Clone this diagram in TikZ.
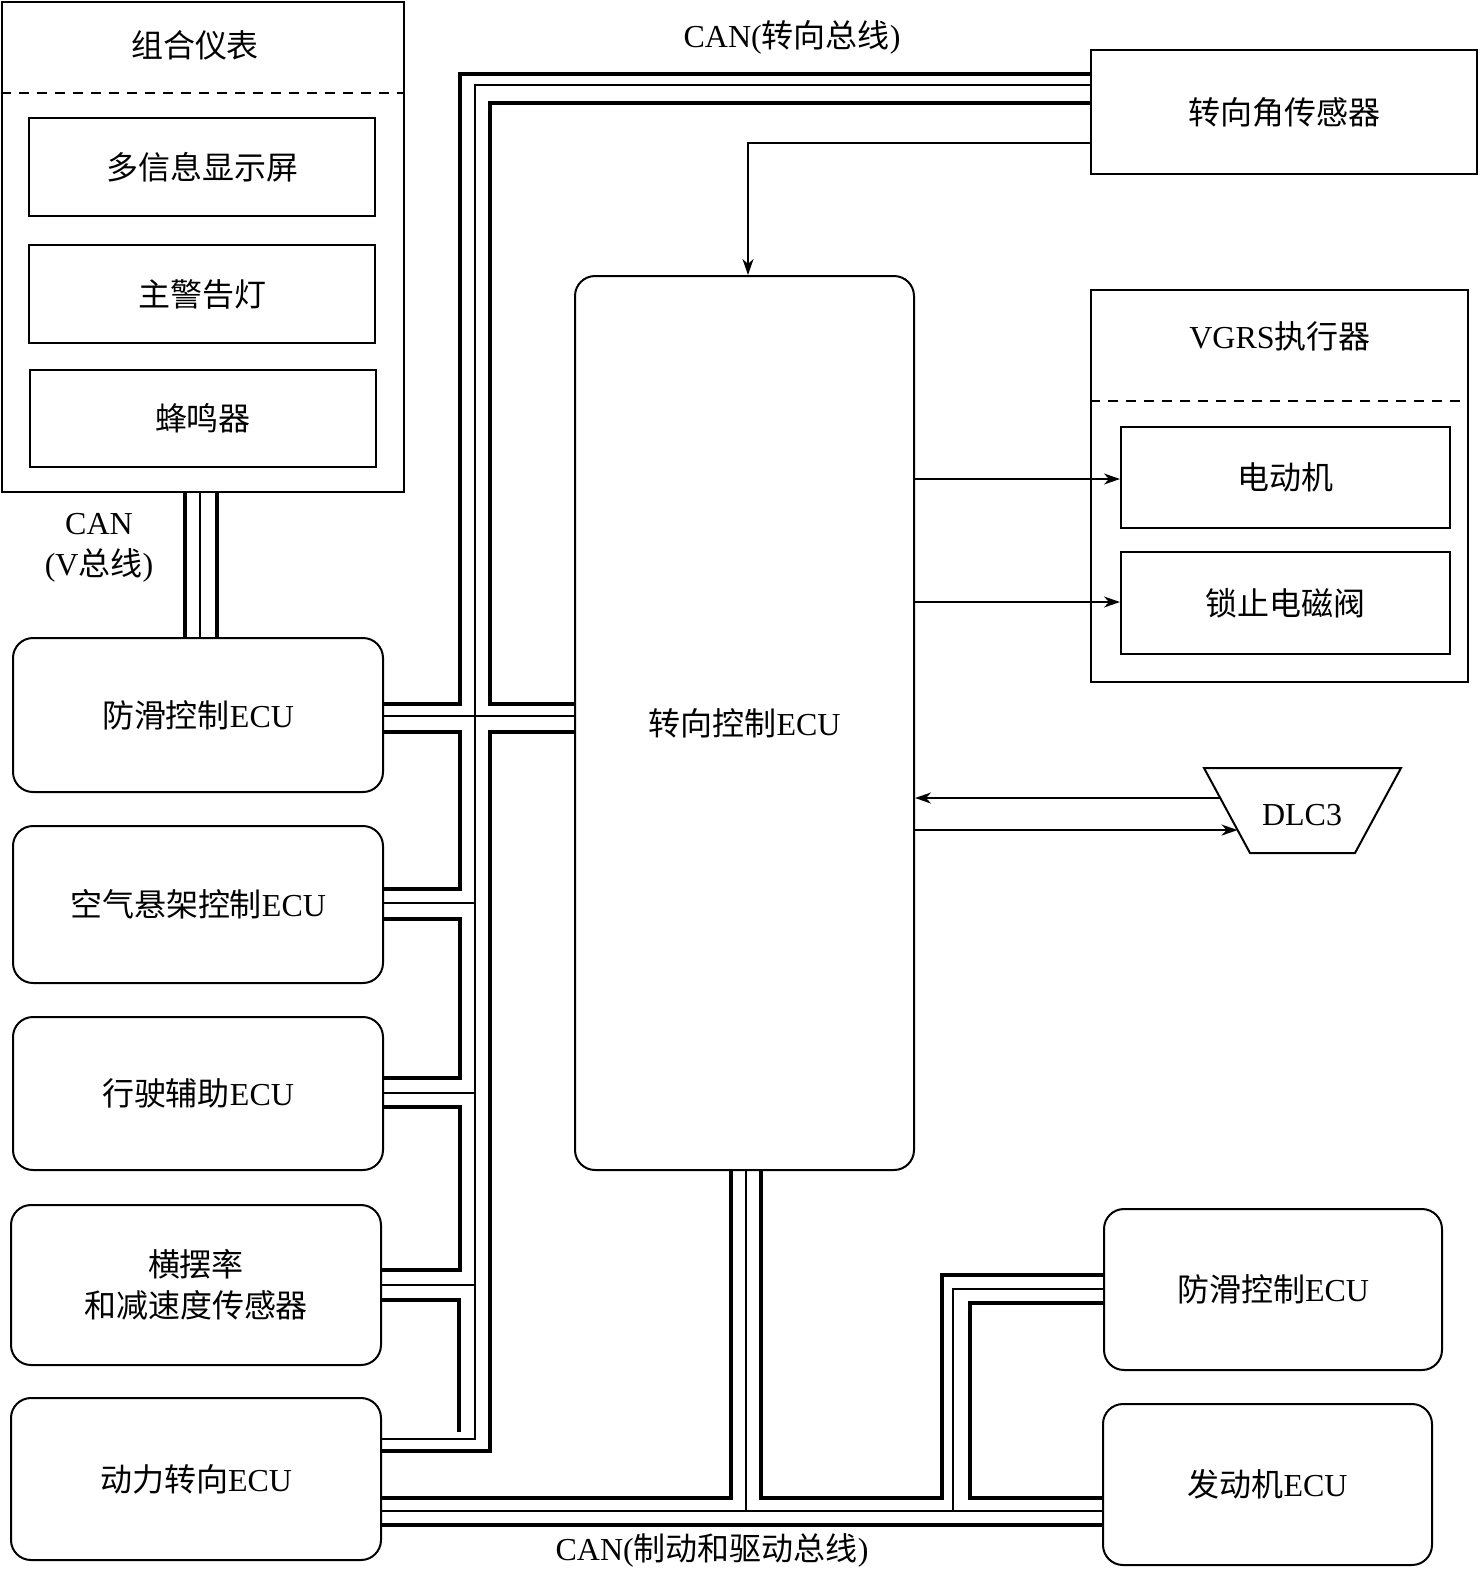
\documentclass[tikz,border=0pt]{standalone}
\usepackage{fontspec}
\setmainfont{Liberation Serif}
\newfontfamily\cjk{Noto Sans CJK SC}
\usetikzlibrary{arrows.meta,calc}

\newcommand{\zh}[1]{{\cjk #1}}

\begin{document}
\begin{tikzpicture}[x=0.5pt, y=-0.5pt, >={Stealth[length=8pt,width=5.5pt,inset=2.5pt]},
    box/.style={draw, line width=1pt, inner sep=0pt, font=\fontsize{16}{20.5}\selectfont},
    ecu/.style={box, rounded corners=10pt},
    lbl/.style={inner sep=0pt, font=\fontsize{16}{20.5}\selectfont},
    wirea/.style={line width=1.9pt},
    wireb/.style={line width=0.9pt},
    sig/.style={->, line width=1pt},
    sep/.style={line width=0.8pt, dash pattern=on 5pt off 4pt}]
    \useasboundingbox (0,0) rectangle (1481,1571);

    % instrument cluster
    \node[box, minimum width=201pt, minimum height=245pt] (zh) at (203,247) {};
    \node[lbl] (zht) at (195,45) {\zh{组合仪表}};
    \draw[sep] (zh.west |- 0,93) -- (zh.east |- 0,93);
    \node[box, minimum width=173pt, minimum height=49pt] (d1) at (202,167) {\zh{多信息显示屏}};
    \node[box, minimum width=173pt, minimum height=49pt] (d2) at (202,294) {\zh{主警告灯}};
    \node[box, minimum width=173pt, minimum height=48.5pt] (d3) at (203,418.5) {\zh{蜂鸣器}};
    \node[lbl, align=center] (canv) at (99,548) {CAN\\(V\zh{总线})};

    % steering side
    \node[box, minimum width=193pt, minimum height=62pt] (sa) at (1284,112) {\zh{转向角传感器}};
    \node[ecu, minimum width=169.5pt, minimum height=447pt] (ecu) at (744.5,723) {\zh{转向控制}ECU};
    \node[lbl] (canst) at (792,37) {CAN(\zh{转向总线})};

    % VGRS actuator
    \node[box, minimum width=188.5pt, minimum height=196pt] (vg) at (1279.5,486) {};
    \node[lbl] (vgt) at (1280,336) {VGRS\zh{执行器}};
    \draw[sep] (vg.west |- 0,401) -- (vg.east |- 0,401);
    \node[box, minimum width=164.5pt, minimum height=50.5pt] (mo) at (1285.5,477) {\zh{电动机}};
    \node[box, minimum width=164.5pt, minimum height=51pt] (sv) at (1285.5,603) {\zh{锁止电磁阀}};

    % DLC3
    \coordinate (dtl) at (1204,768);
    \coordinate (dtr) at (1401,768);
    \coordinate (dbr) at (1355,853);
    \coordinate (dbl) at (1250,853);
    \draw[line width=1pt] (dtl) -- (dtr) -- (dbr) -- (dbl) -- cycle;
    \node[lbl] (dlc) at (1302,815) {DLC3};
    \coordinate (din) at ($(dtl)!0.353!(dbl)$);
    \coordinate (dout) at ($(dtl)!0.73!(dbl)$);

    % left ECUs
    \node[ecu, minimum width=185pt, minimum height=77pt] (l1) at (198,715) {\zh{防滑控制}ECU};
    \node[ecu, minimum width=185pt, minimum height=78.5pt] (l2) at (198,904.5) {\zh{空气悬架控制}ECU};
    \node[ecu, minimum width=185pt, minimum height=76.5pt] (l3) at (198,1093.5) {\zh{行驶辅助}ECU};
    \node[ecu, minimum width=185pt, minimum height=80pt, align=center] (l4) at (196,1285) {\zh{横摆率}\\\zh{和减速度传感器}};
    \node[ecu, minimum width=185pt, minimum height=81pt] (l5) at (196,1479) {\zh{动力转向}ECU};

    % right ECUs
    \node[ecu, minimum width=169pt, minimum height=80.5pt] (r1) at (1273,1289.5) {\zh{防滑控制}ECU};
    \node[ecu, minimum width=164.5pt, minimum height=80.5pt] (r2) at (1267.5,1484.5) {\zh{发动机}ECU};
    \node[lbl] (canbd) at (712,1550) {CAN(\zh{制动和驱动总线})};

    % V bus
    \foreach \x/\w in {185/wirea, 200/wireb, 217/wirea}
      \draw[\w] (\x,0 |- zh.south) -- (\x,0 |- l1.north);

    % steering bus, outer wire
    \draw[wirea] (sa.west |- 0,74) -| (460,704) -- (l1.east |- 0,704);
    \draw[wirea] (l1.east |- 0,732) -| (460,889) -- (l2.east |- 0,889);
    \draw[wirea] (l2.east |- 0,919) -| (460,1078) -- (l3.east |- 0,1078);
    \draw[wirea] (l3.east |- 0,1107) -| (460,1270) -- (l4.east |- 0,1270);
    \coordinate (stub) at (459,1432);
    \draw[wirea] (l4.east |- 0,1300) -| (stub);
    % middle wire
    \draw[wireb] (sa.west |- 0,85) -| (475,1439) -- (l5.east |- 0,1439);
    \draw[wireb] (l1.east |- 0,716) -- (ecu.west |- 0,716);
    \draw[wireb] (l2.east |- 0,903) -- (475,903);
    \draw[wireb] (l3.east |- 0,1093) -- (475,1093);
    \draw[wireb] (l4.east |- 0,1285) -- (475,1285);
    % inner wire
    \draw[wirea] (sa.west |- 0,103) -| (490,704) -- (ecu.west |- 0,704);
    \draw[wirea] (ecu.west |- 0,732) -| (490,1451) -- (l5.east |- 0,1451);

    % brake and drive bus
    \draw[wirea] (l5.east |- 0,1498) -| (731,0 |- ecu.south);
    \draw[wireb] (l5.east |- 0,1511) -- (r2.west |- 0,1511);
    \draw[wirea] (l5.east |- 0,1525) -- (r2.west |- 0,1525);
    \draw[wireb] (746,0 |- ecu.south) -- (746,1511);
    \draw[wirea] (761,0 |- ecu.south) |- (942,1498) |- (r1.west |- 0,1275);
    \draw[wireb] (r1.west |- 0,1289) -| (953,1511);
    \draw[wirea] (r1.west |- 0,1303) -| (970,1498) -- (r2.west |- 0,1498);

    % signal lines
    \draw[sig] (sa.west |- 0,143) -| (ecu.north -| 748,0);
    \draw[sig] (ecu.east |- 0,479) -- (mo.west |- 0,479);
    \draw[sig] (ecu.east |- 0,602) -- (sv.west |- 0,602);
    \draw[sig] (din) -- (ecu.east |- din);
    \draw[sig] (ecu.east |- dout) -- (dout);
\end{tikzpicture}
\end{document}
